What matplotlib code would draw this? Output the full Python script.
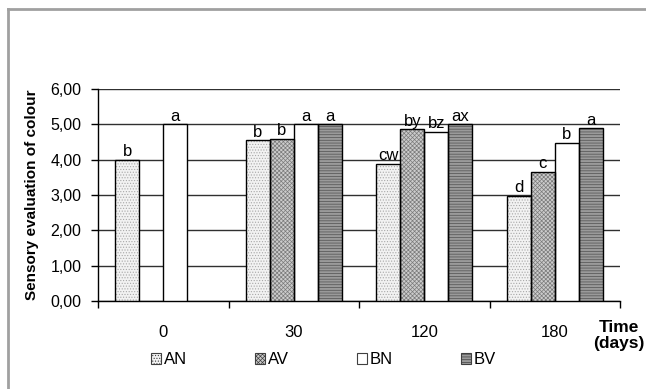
import numpy as np
import matplotlib
matplotlib.use("Agg")
import matplotlib.pyplot as plt
from matplotlib.patches import Patch

plt.rcParams['font.family'] = ['Liberation Sans', 'DejaVu Sans']
plt.rcParams['hatch.linewidth'] = 0.5

# --- data ---
days = ['0', '30', '120', '180']
series = ['AN', 'AV', 'BN', 'BV']
AN = [4.00, 4.55, 3.88, 2.97]
AV = [np.nan, 4.58, 4.86, 3.65]
BN = [5.00, 5.00, 4.78, 4.48]
BV = [np.nan, 5.00, 5.00, 4.89]
AN_letters = ['b', 'b', 'cw', 'd']
AV_letters = ['', 'b', 'by', 'c']
BN_letters = ['a', 'a', 'bz', 'b']
BV_letters = ['', 'a', 'ax', 'a']

values = [AN, AV, BN, BV]
letters = [AN_letters, AV_letters, BN_letters, BV_letters]

# fill / hatch / hatch colour for each series
styles = [
    dict(face='#f2f2f2', hatch='......', hcol='#a8a8a8'),
    dict(face='#cccccc', hatch='xxxxxxxx', hcol='#7a7a7a'),
    dict(face='white', hatch='', hcol='white'),
    dict(face='#9a9a9a', hatch='------', hcol='#505050'),
]

fig = plt.figure(figsize=(6.46, 3.89), dpi=100)
ax = fig.add_axes([0.1517, 0.2262, 0.8081, 0.545])

x = np.arange(len(days))
w = 0.184
for j, (vals, st) in enumerate(zip(values, styles)):
    pos = x + (j - 1.5) * w
    v = np.array(vals, dtype=float)
    ax.bar(pos, v, w, color=st['face'], hatch=st['hatch'],
           edgecolor=st['hcol'], linewidth=0, zorder=3)
    ax.bar(pos, v, w, fill=False, edgecolor='black', linewidth=1.0, zorder=4)
    for p, val, lab in zip(pos, v, letters[j]):
        if lab and not np.isnan(val):
            ax.annotate(lab, (p, val), xytext=(0, 0.5), textcoords='offset points',
                        ha='center', va='bottom', fontsize=12)

ax.set_xlim(-0.5, 3.5)
ax.set_ylim(0, 6)
ax.set_yticks(np.arange(0, 7, 1))
ax.set_yticklabels([f'{t:.2f}'.replace('.', ',') for t in range(7)], fontsize=11.5)
ax.yaxis.grid(True, color='#303030', linewidth=1.0, zorder=0)
ax.set_axisbelow(True)

ax.set_xticks(np.arange(-0.5, 4, 1))
ax.set_xticklabels([])
ax.set_xticks(x, minor=True)
ax.set_xticklabels(days, minor=True, fontsize=12)
ax.tick_params(axis='x', which='minor', length=0, pad=17)
ax.tick_params(axis='x', which='major', direction='out', length=5, width=1)
ax.tick_params(axis='y', direction='out', length=5, width=1, pad=7)

for s in ['top', 'right']:
    ax.spines[s].set_visible(False)
for s in ['left', 'bottom']:
    ax.spines[s].set_linewidth(1.0)

ax.set_ylabel('Sensory evaluation of colour', fontsize=11, fontweight='bold',
              labelpad=8)

fig.text(0.958, 0.137, 'Time\n(days)', ha='center', va='center',
         fontsize=12.5, fontweight='bold', linespacing=1.05)

handles = [Patch(facecolor=st['face'], hatch=st['hatch'], edgecolor='#404040',
                 linewidth=0.8) for st in styles]
fig.legend(handles, series, loc='center left', bbox_to_anchor=(0.221, 0.075),
           ncol=4, frameon=False, fontsize=12, handlelength=0.6,
           handleheight=0.6, handletextpad=0.15, columnspacing=4.1,
           borderpad=0)

# grey outer frame (left and top edges)
fig.add_artist(plt.Line2D([0.0124, 0.0124], [0, 0.977], color='#a0a0a0',
                          linewidth=2, transform=fig.transFigure))
fig.add_artist(plt.Line2D([0.0124, 1.0], [0.977, 0.977], color='#a0a0a0',
                          linewidth=2, transform=fig.transFigure))

fig.savefig('out.png', dpi=100)
